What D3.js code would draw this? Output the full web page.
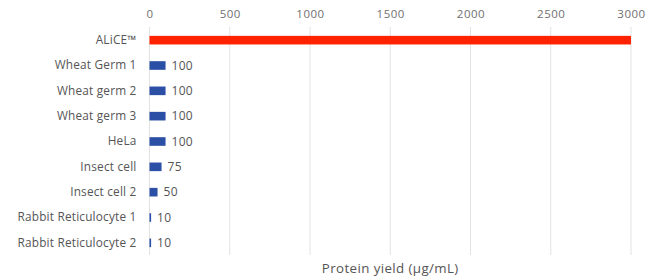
<!DOCTYPE html>
<html><head><meta charset="utf-8">
<script src="https://cdn.jsdelivr.net/npm/d3@7"></script>
<style>body{margin:0;background:#fff}svg{display:block}text{font-family:"Open Sans","Noto Sans",sans-serif}</style>
</head><body><svg id="c" width="657" height="279"></svg>
<script>
const categories = ["ALiCE™","Wheat Germ 1","Wheat germ 2","Wheat germ 3","HeLa","Insect cell","Insect cell 2","Rabbit Reticulocyte 1","Rabbit Reticulocyte 2"];
const values = [3000,100,100,100,100,75,50,10,10];
const tickValues = [0,500,1000,1500,2000,2500,3000];
const axisTitle = "Protein yield (µg/mL)";

const svg = d3.select("#c");
const x = d3.scaleLinear().domain([0,3000]).range([149.5,631]);
const y = d3.scaleBand().domain(categories).range([27.5,255.5]).paddingInner(0.66).paddingOuter(0.33);

// grid
svg.append("g").selectAll("line").data(tickValues).join("line")
  .attr("x1",d=>x(d)).attr("x2",d=>x(d)).attr("y1",27).attr("y2",255)
  .attr("stroke","#e2e2e2").attr("stroke-width",1);

// top axis
const ax = svg.append("g").attr("transform","translate(0,27)")
  .call(d3.axisTop(x).tickValues(tickValues).tickFormat(d3.format("d")).tickSize(0).tickPadding(9));
ax.select(".domain").remove();
ax.selectAll("text").attr("fill","#6f6f6f").attr("font-size",11.5).attr("letter-spacing",0.5);

// left category labels
const ay = svg.append("g").attr("transform","translate(149.5,0)")
  .call(d3.axisLeft(y).tickSize(0).tickPadding(13));
ay.select(".domain").remove();
ay.selectAll("text").attr("fill","#555").attr("font-size",11.8).attr("letter-spacing",0.2);

// bars
svg.append("g").selectAll("rect").data(values).join("rect")
  .attr("x",x(0)).attr("y",(d,i)=>y(categories[i]))
  .attr("width",d=>x(d)-x(0)).attr("height",y.bandwidth())
  .attr("fill",(d,i)=>i===0?"#ff2200":"#2c4fa6");

// value labels
svg.append("g").selectAll("text").data(values.slice(1)).join("text")
  .attr("x",d=>x(d)+6).attr("y",(d,i)=>y(categories[i+1])+y.bandwidth()/2)
  .attr("dy","0.35em").attr("fill","#555").attr("font-size",12).attr("letter-spacing",0.3)
  .text(d=>d);

svg.append("text").attr("x",(x(0)+x(3000))/2).attr("y",273).attr("text-anchor","middle")
  .attr("fill","#555").attr("font-size",13.3).attr("letter-spacing",0.4).text(axisTitle);
</script></body></html>
